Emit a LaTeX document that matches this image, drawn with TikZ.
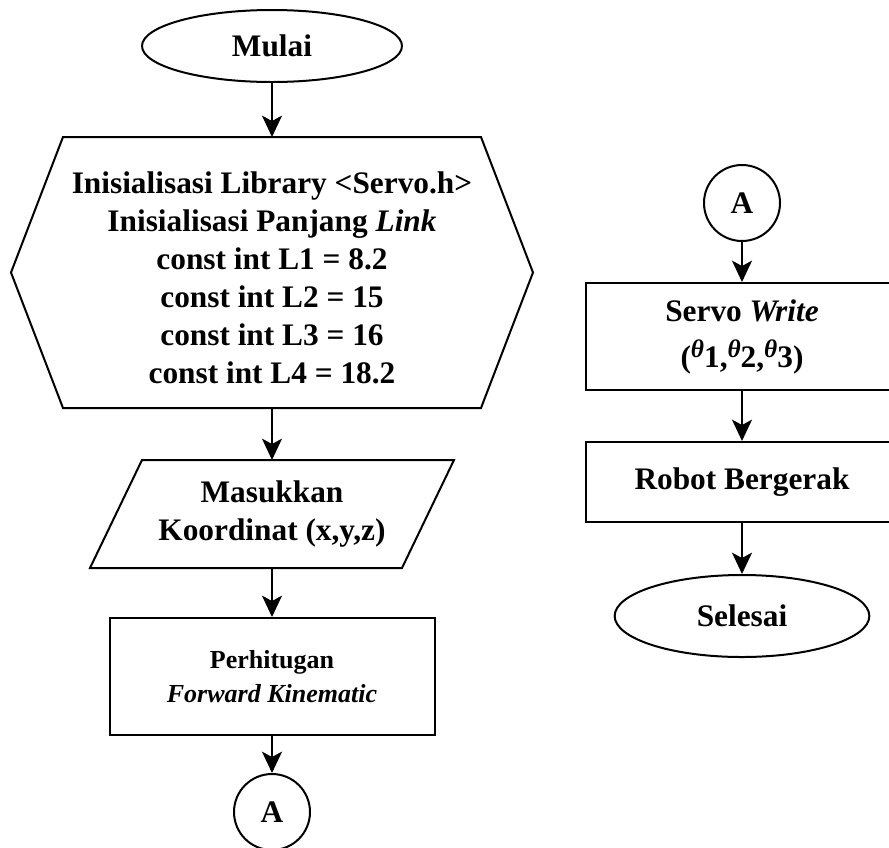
\documentclass[tikz,border=0pt]{standalone}
\usepackage{fontspec}
\setmainfont{Liberation Serif}
\usetikzlibrary{shapes.geometric,arrows.meta,calc}
\newcommand\thsym{\raisebox{0.3em}{\fontsize{19}{19}\selectfont\itshape θ}}
\begin{document}
\begin{tikzpicture}[x=0.75pt,y=-0.75pt,
  line width=1.5pt,
  txt/.style={font=\fontsize{23.5}{28.5}\selectfont\bfseries, align=center, inner sep=0pt},
  shapebox/.style={draw, rectangle, inner sep=0pt},
  flowarrow/.style={-{Stealth[length=16pt,width=15pt,inset=4pt]}, line width=1.5pt},
  terminal/.style={draw, ellipse, inner sep=0pt},
  connector/.style={draw, circle, inner sep=0pt, minimum size=57pt}]
\useasboundingbox (0,0) rectangle (889,847);
\clip (0,0) rectangle (889,847);

% left column
\node[terminal, txt, minimum width=195pt, minimum height=54pt] (mulai) at (272,46) {Mulai};

% hexagonal preparation block: outline around an empty frame node, text set separately
\node[inner sep=0pt, minimum width=312pt, minimum height=201.75pt] (hex) at (272,272.5) {};
\draw (hex.north west) -- (hex.north east) -- ($(hex.east)+(52,0)$)
  -- (hex.south east) -- (hex.south west) -- ($(hex.west)+(-52,0)$) -- cycle;
\node[txt] (hextext) at (272,278)
  {Inisialisasi Library <Servo.h>\\
   Inisialisasi Panjang \textit{Link}\\
   const int L1 = 8.2\\
   const int L2 = 15\\
   const int L3 = 16\\
   const int L4 = 18.2};

\node[txt, minimum width=232.5pt, minimum height=79.5pt] (input) at (272,514)
  {Masukkan\\Koordinat (x,y,z)};
\draw ($(input.north west)+(26,0)$) -- ($(input.north east)+(26,0)$)
  -- ($(input.south east)+(-26,0)$) -- ($(input.south west)+(-26,0)$) -- cycle;

\node[shapebox, align=center, font=\fontsize{19.5}{25}\selectfont\bfseries,
      minimum width=243.75pt, minimum height=87.75pt] (fk) at (272,676.5)
  {Perhitugan\\\textit{Forward Kinematic}};

\node[connector, txt] (a1) at (272,812) {A};

\draw[flowarrow] (mulai.south) -- (hex.north);
\draw[flowarrow] (hex.south) -- (input.north);
\draw[flowarrow] (input.south) -- (fk.north);
\draw[flowarrow] (fk.south) -- (a1.north);

% right column
\node[connector, txt] (a2) at (742,203) {A};

\node[shapebox, txt, minimum width=234pt, minimum height=80.25pt] (write) at (742,336.5)
  {Servo \textit{Write}\\[6pt](\thsym1,\thsym2,\thsym3)};

\node[shapebox, txt, minimum width=234pt, minimum height=60pt] (move) at (742,482)
  {Robot Bergerak};

\node[terminal, txt, minimum width=191pt, minimum height=61.5pt] (selesai) at (742,616)
  {Selesai};

\draw[flowarrow] (a2.south) -- (write.north);
\draw[flowarrow] (write.south) -- (move.north);
\draw[flowarrow] (move.south) -- (selesai.north);
\end{tikzpicture}
\end{document}
